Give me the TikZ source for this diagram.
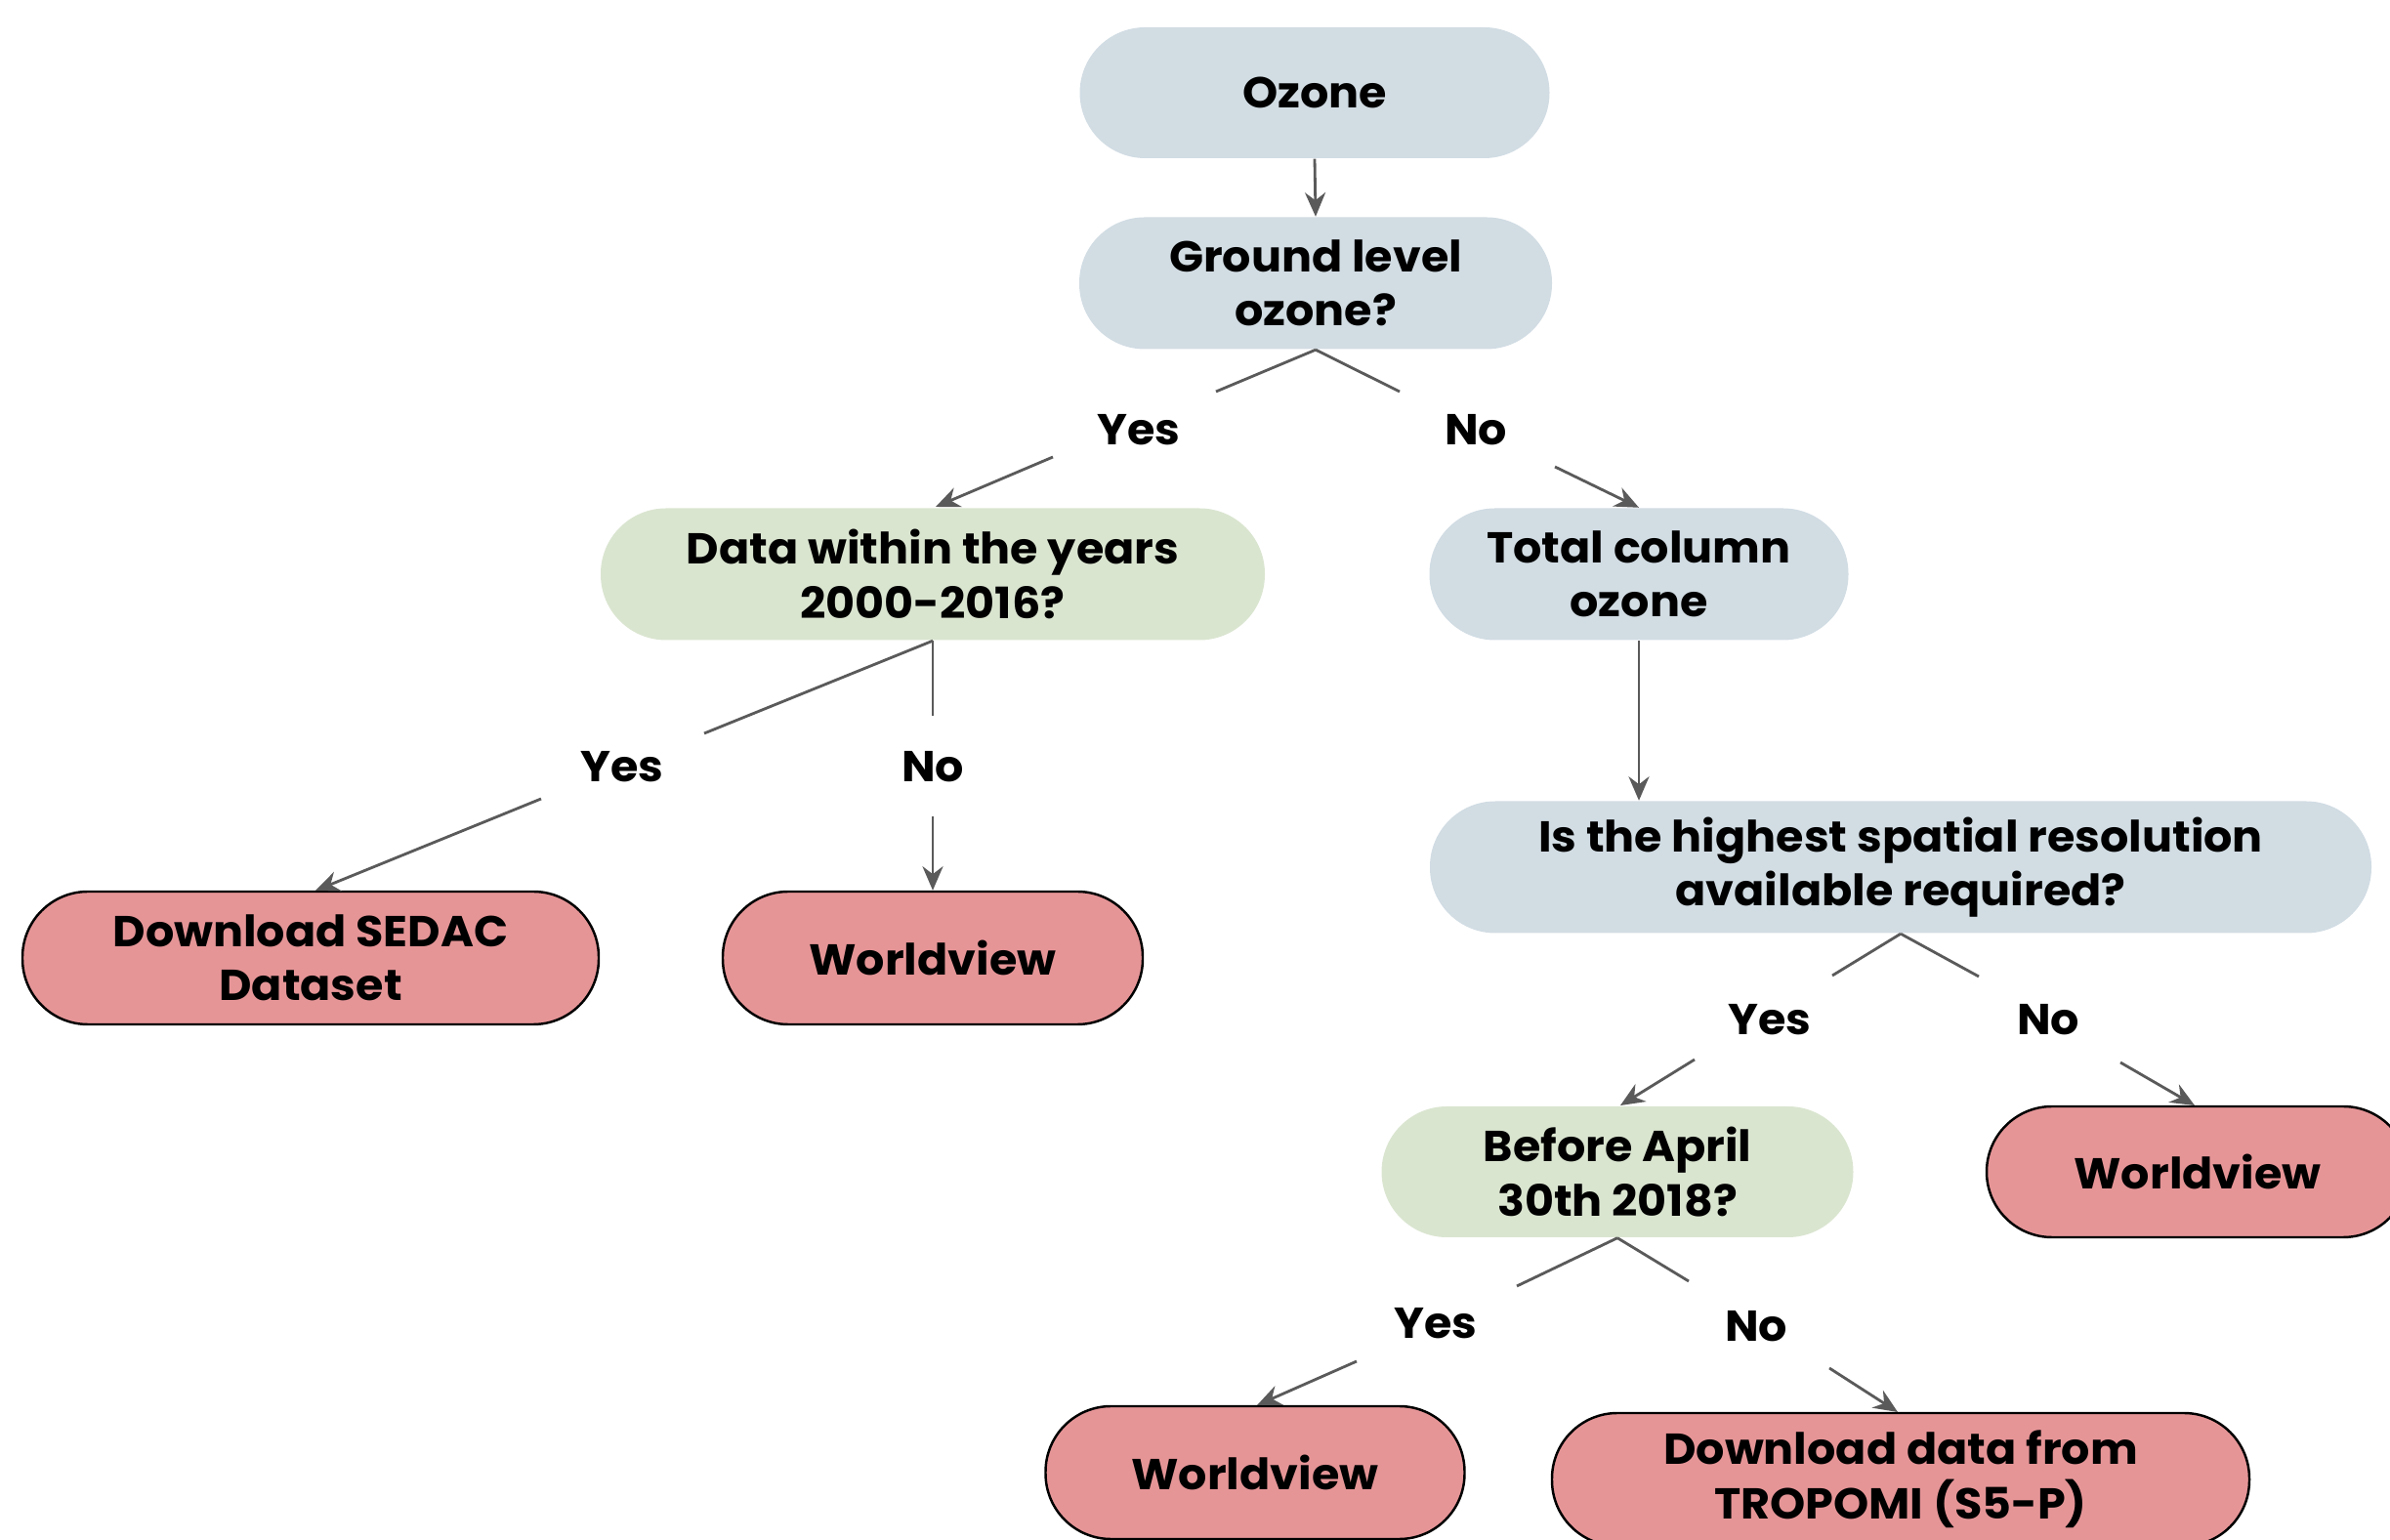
\documentclass[tikz,border=0pt]{standalone}
\usepackage{fontspec}
\setmainfont{Poppins}[FakeStretch=1.04]
\usetikzlibrary{arrows.meta}
\definecolor{bluefill}{RGB}{209,220,227}
\definecolor{greenfill}{RGB}{218,229,208}
\definecolor{pinkfill}{RGB}{230,149,151}
\definecolor{linegray}{RGB}{90,90,90}
\tikzset{
  box/.style={rectangle, rounded corners=0.67cm, align=center, inner sep=0pt,
    font=\fontsize{12.6}{15.8}\selectfont\bfseries},
  bluebox/.style={box, fill=bluefill},
  greenbox/.style={box, fill=greenfill},
  pinkbox/.style={box, fill=pinkfill, draw=black, line width=0.7pt},
  lbl/.style={font=\fontsize{12.6}{15.8}\selectfont\bfseries, inner sep=0pt},
  conn/.style={draw=linegray, line width=0.8pt},
  arr/.style={conn, -{Stealth[length=7pt,width=6pt]}}
}
\begin{document}
\begin{tikzpicture}
\useasboundingbox (0,0) rectangle (24.47,-15.77);
\clip (0,0) rectangle (24.47,-15.77);
% nodes
\node[bluebox, minimum width=4.81cm, minimum height=1.34cm] (ozone) at (13.46,-0.95) {Ozone};
\node[bluebox, minimum width=4.84cm, minimum height=1.35cm] (ground) at (13.47,-2.90) {Ground level\\ozone?};
\node[greenbox, minimum width=6.80cm, minimum height=1.35cm] (data) at (9.55,-5.88) {Data within the years\\2000-2016?};
\node[bluebox, minimum width=4.29cm, minimum height=1.35cm] (total) at (16.78,-5.88) {Total column\\ozone};
\node[pinkbox, minimum width=5.90cm, minimum height=1.36cm] (sedac) at (3.18,-9.81) {Download SEDAC\\Dataset};
\node[pinkbox, minimum width=4.30cm, minimum height=1.36cm] (wv1) at (9.55,-9.81) {Worldview};
\node[bluebox, minimum width=9.64cm, minimum height=1.35cm] (res) at (19.46,-8.88) {Is the highest spatial resolution\\available required?};
\node[greenbox, minimum width=4.83cm, minimum height=1.34cm] (before) at (16.56,-12.00) {Before April\\30th 2018?};
\node[pinkbox, minimum width=4.32cm, minimum height=1.34cm] (wv2) at (22.50,-12.00) {Worldview};
\node[pinkbox, minimum width=4.29cm, minimum height=1.36cm] (wv3) at (12.85,-15.08) {Worldview};
\node[pinkbox, minimum width=7.14cm, minimum height=1.36cm] (trop) at (19.46,-15.15) {Download data from\\TROPOMI (S5-P)};
% labels
\node[lbl] (y1) at (11.66,-4.40) {Yes};
\node[lbl] (n1) at (15.11,-4.40) {No};
\node[lbl] (y2) at (6.37,-7.85) {Yes};
\node[lbl] (n2) at (9.55,-7.85) {No};
\node[lbl] (y3) at (18.12,-10.44) {Yes};
\node[lbl] (n3) at (20.97,-10.44) {No};
\node[lbl] (y4) at (14.70,-13.55) {Yes};
\node[lbl] (n4) at (17.98,-13.58) {No};
% coordinates for free ends
\coordinate (g-y) at (12.45,-4.01);
\coordinate (g-n) at (14.33,-4.01);
\coordinate (y1s) at (10.78,-4.68);
\coordinate (n1s) at (15.92,-4.78);
\coordinate (d-y) at (7.21,-7.51);
\coordinate (d-n) at (9.55,-7.33);
\coordinate (y2s) at (5.54,-8.18);
\coordinate (n2s) at (9.55,-8.36);
\coordinate (r-y) at (18.76,-9.99);
\coordinate (r-n) at (20.26,-10.00);
\coordinate (y3s) at (17.35,-10.85);
\coordinate (n3s) at (21.71,-10.88);
\coordinate (b-y) at (15.53,-13.17);
\coordinate (b-n) at (17.29,-13.12);
\coordinate (y4s) at (13.89,-13.94);
\coordinate (n4s) at (18.73,-14.01);
% connectors
\draw[arr] (ozone.south) -- (ground.north);
\draw[conn] (ground.south) -- (g-y);
\draw[conn] (ground.south) -- (g-n);
\draw[arr] (y1s) -- (9.58,-5.19);
\draw[arr] (n1s) -- (total.north);
\draw[conn] (data.south) -- (d-y);
\draw[conn] (data.south) -- (d-n);
\draw[arr] (y2s) -- (3.23,-9.12);
\draw[arr] (n2s) -- (wv1.north);
\draw[arr] (total.south) -- (total.south |- res.north);
\draw[conn] (res.south) -- (r-y);
\draw[conn] (res.south) -- (r-n);
\draw[arr] (y3s) -- (16.59,-11.32);
\draw[arr] (n3s) -- (22.47,-11.32);
\draw[conn] (before.south) -- (b-y);
\draw[conn] (before.south) -- (b-n);
\draw[arr] (y4s) -- (12.87,-14.39);
\draw[arr] (n4s) -- (19.43,-14.46);
\end{tikzpicture}
\end{document}
